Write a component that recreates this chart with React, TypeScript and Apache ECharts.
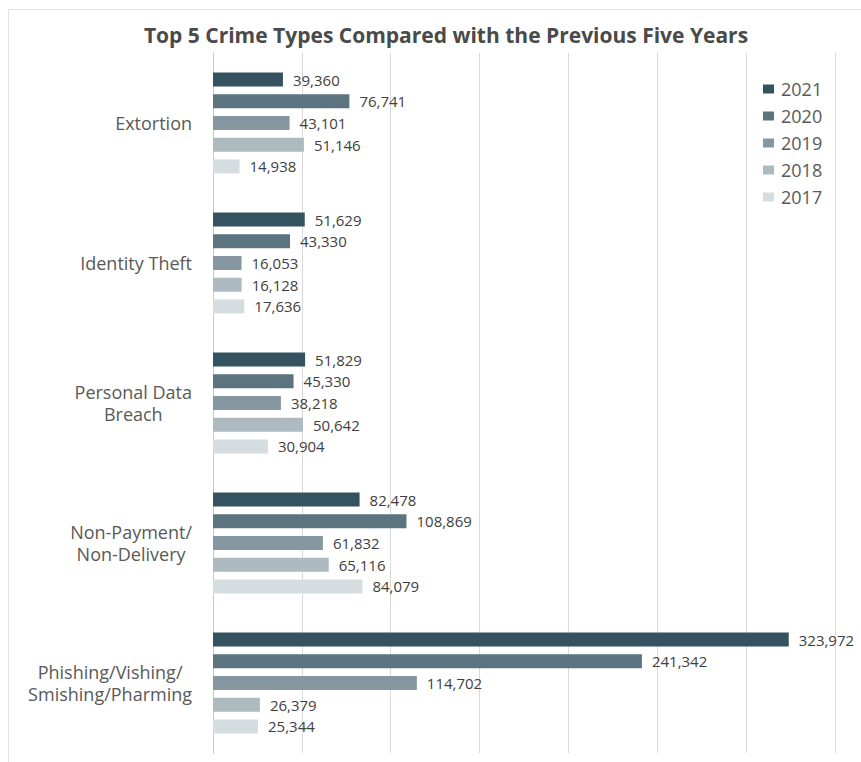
import React, { useEffect, useRef } from "react";
import * as echarts from "echarts";

const categories = [
  "Extortion",
  "Identity Theft",
  "Personal Data\nBreach",
  "Non-Payment/\nNon-Delivery",
  "Phishing/Vishing/\nSmishing/Pharming",
];
const years = ["2021", "2020", "2019", "2018", "2017"];
const values2021 = [39360, 51629, 51829, 82478, 323972];
const values2020 = [76741, 43330, 45330, 108869, 241342];
const values2019 = [43101, 16053, 38218, 61832, 114702];
const values2018 = [51146, 16128, 50642, 65116, 26379];
const values2017 = [14938, 17636, 30904, 84079, 25344];
const seriesValues = [values2021, values2020, values2019, values2018, values2017];
const colors = ["#34525f", "#5b7480", "#8797a1", "#adbabf", "#d6dde0"];

const FONT = "'Open Sans', 'Noto Sans', sans-serif";

export default function App() {
  const ref = useRef<HTMLDivElement>(null);
  useEffect(() => {
    if (!ref.current) return;
    const chart = echarts.init(ref.current, null, { renderer: "svg" });
    chart.setOption({
      animation: false,
      backgroundColor: "#ffffff",
      title: {
        text: "Top 5 Crime Types Compared with the Previous Five Years",
        left: 441,
        textAlign: "center",
        top: 19,
        textStyle: { fontFamily: FONT, fontSize: 21, fontWeight: "bold", color: "#4a4a4a" },
      },
      graphic: [
        {
          type: "rect",
          shape: { x: 8.5, y: 9.5, width: 900, height: 800 },
          style: { fill: "none", stroke: "#e2e2e2", lineWidth: 1 },
          silent: true,
          z: -10,
        },
      ],
      legend: {
        data: years,
        orient: "vertical",
        left: 758,
        top: 74,
        itemWidth: 11,
        itemHeight: 9,
        itemGap: 7,
        icon: "rect",
        textStyle: {
          fontFamily: FONT,
          fontSize: 18,
          color: "#595959",
          lineHeight: 20,
          padding: [0, 0, 0, 2],
        },
      },
      grid: { left: 213, right: 26, top: 53, bottom: 9, containLabel: false },
      xAxis: {
        type: "value",
        min: 0,
        max: 350000,
        interval: 50000,
        axisLabel: { show: false },
        axisLine: { show: false },
        axisTick: { show: false },
        splitLine: { lineStyle: { color: "#d9d9d9", width: 1 } },
      },
      yAxis: {
        type: "category",
        data: categories,
        inverse: true,
        axisTick: { show: false },
        axisLine: { lineStyle: { color: "#c8c8c8", width: 1 } },
        axisLabel: {
          margin: 21,
          align: "right",
          formatter: (v: string) =>
            v
              .split("\n")
              .map((line) => `{c|${line}}`)
              .join("\n"),
          rich: {
            c: {
              align: "center",
              fontFamily: FONT,
              fontSize: 18,
              lineHeight: 22,
              color: "#595959",
            },
          },
        },
      },
      series: years.map((y, i) => ({
        name: y,
        type: "bar",
        data: seriesValues[i],
        barWidth: 14,
        barGap: "55%",
        itemStyle: { color: colors[i] },
        label: {
          show: true,
          position: "right",
          distance: 10,
          fontFamily: FONT,
          fontSize: 15,
          color: "#404040",
          formatter: (p: any) => Number(p.value).toLocaleString("en-US"),
        },
      })),
    });
    return () => chart.dispose();
  }, []);
  return (
    <div
      ref={ref}
      style={{ position: "fixed", left: 0, top: 0, width: 861, height: 762 }}
    />
  );
}
